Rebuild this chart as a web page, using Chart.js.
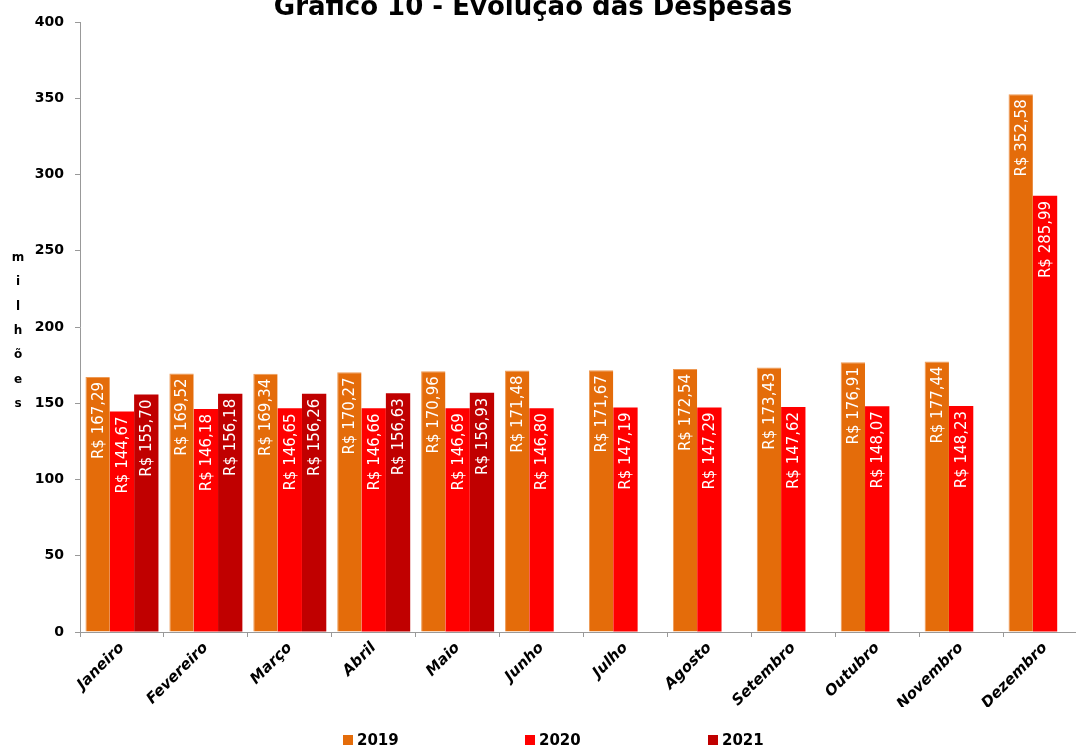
<!DOCTYPE html>
<html>
<head>
<meta charset="utf-8">
<script src="https://cdn.jsdelivr.net/npm/chart.js@4"></script>
<style>
  html, body { margin: 0; padding: 0; background: #fff; overflow: hidden; }
  #wrap { position: relative; width: 1090px; height: 747px; }
</style>
</head>
<body>
<div id="wrap"><canvas id="chart"></canvas></div>
<script>
// dados (R$ milhões)
const months = ['Janeiro', 'Fevereiro', 'Março', 'Abril', 'Maio', 'Junho', 'Julho',
    'Agosto', 'Setembro', 'Outubro', 'Novembro', 'Dezembro'];
const values2019 = [167.29, 169.52, 169.34, 170.27, 170.96, 171.48, 171.67, 172.54, 173.43, 176.91, 177.44, 352.58];
const values2020 = [144.67, 146.18, 146.65, 146.66, 146.69, 146.80, 147.19, 147.29, 147.62, 148.07, 148.23, 285.99];
const values2021 = [155.70, 156.18, 156.26, 156.63, 156.93, null, null, null, null, null, null, null];
const yTicks = [0, 50, 100, 150, 200, 250, 300, 350, 400];
const chartTitle = 'Gráfico 10 - Evolução das Despesas';
const yTitle = 'milhões';

const FONT = '"DejaVu Sans", sans-serif';

function fmt(v) {
    return 'R$ ' + v.toFixed(2).replace('.', ',');
}

// rótulos brancos girados dentro das barras
const barLabels = {
    id: 'barLabels',
    afterDatasetsDraw(chart) {
        const ctx = chart.ctx;
        ctx.save();
        ctx.fillStyle = '#fff';
        ctx.font = '15px ' + FONT;
        ctx.textAlign = 'right';
        ctx.textBaseline = 'middle';
        chart.data.datasets.forEach((ds, i) => {
            chart.getDatasetMeta(i).data.forEach((bar, j) => {
                const v = ds.data[j];
                if (v == null) return;
                ctx.save();
                ctx.translate(bar.x, bar.y + 5);
                ctx.rotate(-Math.PI / 2);
                ctx.fillText(fmt(v), 0, 1);
                ctx.restore();
            });
        });
        ctx.restore();
    }
};

// título, rótulo do eixo y (letras empilhadas) e legenda
const legendX = [343, 525, 708];
const extras = {
    id: 'extras',
    afterDraw(chart) {
        const ctx = chart.ctx;
        ctx.save();
        ctx.fillStyle = '#000';
        ctx.font = 'bold 26px ' + FONT;
        ctx.textAlign = 'center';
        ctx.textBaseline = 'alphabetic';
        ctx.fillText(chartTitle, 533, 15);

        ctx.textBaseline = 'middle';
        ctx.font = 'bold 12px ' + FONT;
        yTitle.split('').forEach((ch, k) => {
            ctx.fillText(ch, 18, 258 + k * 24.3);
        });

        ctx.textAlign = 'left';
        ctx.font = 'bold 15px ' + FONT;
        chart.data.datasets.forEach((ds, i) => {
            const x = legendX[i];
            ctx.fillStyle = ds.backgroundColor;
            ctx.fillRect(x, 735, 10, 10);
            ctx.fillStyle = '#000';
            ctx.fillText(ds.label, x + 14, 741);
        });
        ctx.restore();
    }
};

const ctx = document.getElementById('chart').getContext('2d');
new Chart(ctx, {
    type: 'bar',
    data: {
        labels: months,
        datasets: [
            { label: '2019', data: values2019, backgroundColor: '#E46C0A', borderColor: '#EE9A55', borderWidth: { top: 1, left: 1 } },
            { label: '2020', data: values2020, backgroundColor: '#FF0000' },
            { label: '2021', data: values2021, backgroundColor: '#C00000' }
        ]
    },
    options: {
        responsive: true,
        maintainAspectRatio: false,
        animation: false,
        layout: { padding: { top: 22, left: 0, right: 3, bottom: 40 } },
        datasets: { bar: { categoryPercentage: 0.87, barPercentage: 1 } },
        plugins: {
            title: { display: false },
            tooltip: { enabled: false },
            legend: { display: false }
        },
        scales: {
            x: {
                afterFit(scale) { scale.height = 75; },
                grid: { display: true, drawOnChartArea: false, color: '#999', tickLength: 5 },
                border: { color: '#999' },
                ticks: {
                    maxRotation: 45,
                    minRotation: 45,
                    color: '#000',
                    padding: 2,
                    font: { family: FONT, size: 15, weight: 'bold', style: 'italic' }
                }
            },
            y: {
                min: 0,
                max: 400,
                afterBuildTicks(scale) {
                    scale.ticks = yTicks.map(v => ({ value: v }));
                },
                afterFit(scale) { scale.width = 80; },
                grid: { display: true, drawOnChartArea: false, color: '#999', tickLength: 5 },
                border: { color: '#999' },
                ticks: {
                    color: '#000',
                    padding: 11,
                    font: { family: FONT, size: 14, weight: 'bold' }
                }
            }
        }
    },
    plugins: [barLabels, extras]
});
</script>
</body>
</html>
